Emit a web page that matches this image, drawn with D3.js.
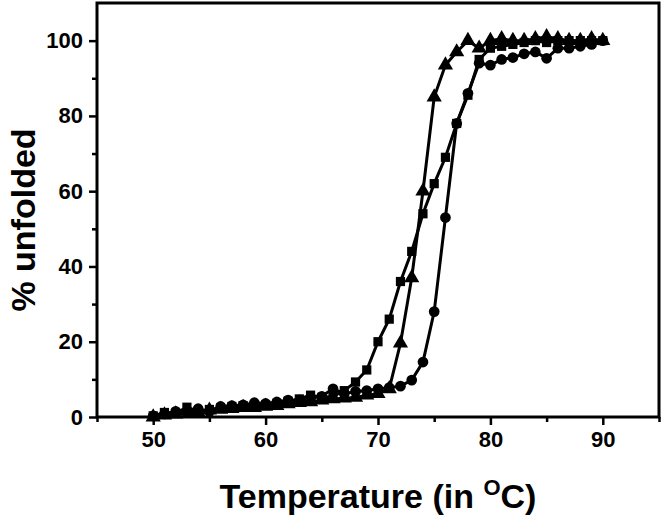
<!DOCTYPE html>
<html>
<head>
<meta charset="utf-8">
<script src="https://cdn.jsdelivr.net/npm/d3@7"></script>
<style>
  body { margin: 0; background: #fff; }
  text { font-family: "Liberation Sans", Arial, sans-serif; font-weight: bold; fill: #000; }
</style>
</head>
<body>
<svg id="chart" width="664" height="520"></svg>
<script>
// melting curves, % unfolded vs temperature

var temps = d3.range(50, 91); // 50..90 C

var squareVals = [0.3, 1.2, 1.0, 2.6, 1.5, 2.0, 2.4, 2.8, 3.0, 3.0,
  3.2, 3.5, 4.2, 4.8, 5.8, 5.2, 5.5, 7.0, 9.3, 12.5,
  20, 26, 36, 44, 54, 62, 69, 78, 85.5, 95,
  98, 98.5, 99, 99.5, 100, 99.5, 100, 100, 100, 100, 100];

var circleVals = [0.3, 0.8, 1.5, 1.2, 2.2, 1.5, 2.8, 3.0, 3.2, 3.8,
  3.6, 4.0, 4.5, 4.3, 5.0, 5.5, 7.5, 6.2, 6.8, 7.0,
  7.5, 7.8, 8.2, 9.8, 14.6, 28, 53, 78, 86, 94,
  93.5, 95, 95.5, 96.5, 97, 95.3, 98, 98, 98.5, 99, 100];

var triangleVals = [0, 0.5, 0.8, 1.5, 1.2, 1.8, 2.0, 2.2, 2.5, 2.5,
  2.8, 3.0, 3.5, 3.8, 4.0, 4.5, 4.8, 5.0, 5.2, 5.8,
  6.2, 7.5, 19.6, 37, 60, 85, 93.5, 97, 100, 98,
  100, 100.5, 100, 100, 100.5, 101, 100.5, 100, 100, 100.5, 100];

var xTicks = [50, 60, 70, 80, 90];
var yTicks = [0, 20, 40, 60, 80, 100];

var margin = {left: 97, top: 3, right: 5, bottom: 103};
var chart_width = 664 - margin.left - margin.right;
var chart_height = 520 - margin.top - margin.bottom;

var svg = d3.select('#chart');
var g = svg.append('g')
  .attr('transform', 'translate(' + margin.left + ',' + margin.top + ')');

var x = d3.scaleLinear().domain([45, 95]).range([0, chart_width]);
var y = d3.scaleLinear().domain([0, 110]).range([chart_height, 0]);

// frame
g.append('rect')
  .attr('width', chart_width)
  .attr('height', chart_height)
  .attr('fill', 'none')
  .attr('stroke', '#000')
  .attr('stroke-width', 3);

// x axis, major + minor ticks
var xAxis = g.append('g').attr('transform', 'translate(0,' + chart_height + ')');
xAxis.call(d3.axisBottom(x).tickValues(xTicks).tickSize(8).tickPadding(6).tickFormat(d3.format('d')));
xAxis.append('g').call(d3.axisBottom(x).tickValues([45, 55, 65, 75, 85, 95]).tickSize(5).tickFormat(''));

var yAxis = g.append('g');
yAxis.call(d3.axisLeft(y).tickValues(yTicks).tickSize(8).tickPadding(6).tickFormat(d3.format('d')));
yAxis.append('g').call(d3.axisLeft(y).tickValues([10, 30, 50, 70, 90]).tickSize(5).tickFormat(''));

svg.selectAll('.domain').remove();
svg.selectAll('.tick line').attr('stroke', '#000').attr('stroke-width', 2.5);
svg.selectAll('.tick text').style('font-size', '22px').style('font-family', '"Liberation Sans", Arial, sans-serif').style('font-weight', 'bold');

// series
var series = [
  {name: 'square', vals: squareVals},
  {name: 'circle', vals: circleVals},
  {name: 'triangle', vals: triangleVals}
];

var line = d3.line()
  .x(function(d) { return x(d[0]); })
  .y(function(d) { return y(d[1]); });

var symbols = {
  square: d3.symbol().type(d3.symbolSquare).size(85),
  circle: d3.symbol().type(d3.symbolCircle).size(90),
  triangle: d3.symbol().type(d3.symbolTriangle).size(100)
};

series.forEach(function(s) {
  var pts = temps.map(function(t, i) { return [t, s.vals[i]]; });
  g.append('path')
    .datum(pts)
    .attr('d', line)
    .attr('fill', 'none')
    .attr('stroke', '#000')
    .attr('stroke-width', 3);
  g.append('g').selectAll('path')
    .data(pts)
    .enter()
    .append('path')
    .attr('d', symbols[s.name])
    .attr('transform', function(d) { return 'translate(' + x(d[0]) + ',' + y(d[1]) + ')'; })
    .attr('fill', '#000');
});

// axis titles
svg.append('text')
  .attr('transform', 'translate(35,' + (margin.top + chart_height / 2 + 10) + ') rotate(-90)')
  .attr('text-anchor', 'middle')
  .style('font-size', '34px')
  .text('% unfolded');

var xt = svg.append('text')
  .attr('x', margin.left + chart_width / 2)
  .attr('y', 508)
  .attr('text-anchor', 'middle')
  .style('font-size', '34px');
xt.append('tspan').text('Temperature (in ');
xt.append('tspan').attr('dy', -13).style('font-size', '22px').text('O');
xt.append('tspan').attr('dy', 13).text('C)');
</script>
</body>
</html>
